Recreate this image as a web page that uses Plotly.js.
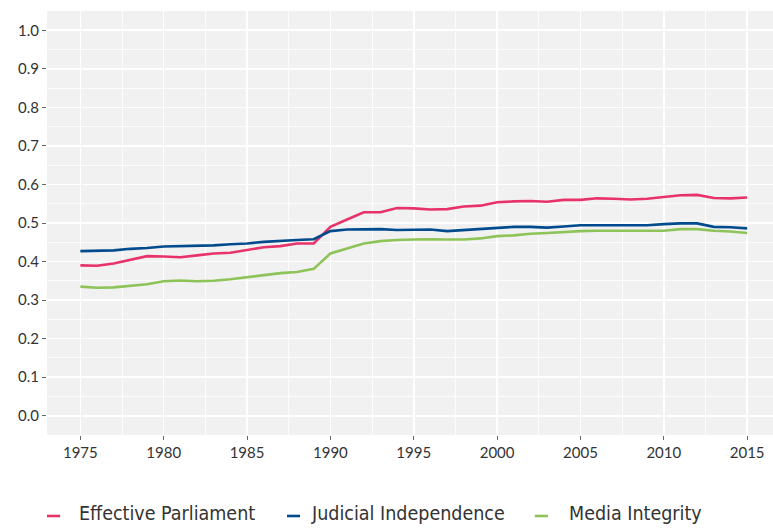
<!DOCTYPE html>
<html>
<head>
<meta charset="utf-8">
<script src="https://cdn.plot.ly/plotly-3.0.1.min.js"></script>
<style>html,body{margin:0;padding:0;background:#fff;}#chart{width:773px;height:528px;}</style>
</head>
<body>
<div id="chart"></div>
<script>
const years = [1975,1976,1977,1978,1979,1980,1981,1982,1983,1984,1985,1986,1987,1988,1989,1990,1991,1992,1993,1994,1995,1996,1997,1998,1999,2000,2001,2002,2003,2004,2005,2006,2007,2008,2009,2010,2011,2012,2013,2014,2015];
const effectiveParliament = [0.390,0.389,0.395,0.404,0.414,0.413,0.411,0.416,0.421,0.423,0.430,0.437,0.440,0.447,0.447,0.490,0.509,0.528,0.528,0.539,0.538,0.535,0.536,0.543,0.545,0.554,0.556,0.557,0.555,0.560,0.560,0.564,0.563,0.561,0.563,0.567,0.572,0.573,0.565,0.564,0.566];
const judicialIndependence = [0.427,0.428,0.429,0.433,0.435,0.439,0.440,0.441,0.442,0.445,0.447,0.451,0.454,0.456,0.458,0.479,0.483,0.484,0.484,0.482,0.482,0.483,0.479,0.482,0.484,0.488,0.490,0.490,0.488,0.491,0.494,0.494,0.494,0.494,0.494,0.497,0.499,0.499,0.490,0.489,0.486];
const mediaIntegrity = [0.335,0.332,0.333,0.337,0.341,0.349,0.351,0.349,0.350,0.354,0.359,0.365,0.370,0.373,0.381,0.421,0.434,0.447,0.453,0.456,0.457,0.458,0.457,0.457,0.460,0.466,0.468,0.472,0.474,0.477,0.479,0.480,0.480,0.479,0.480,0.480,0.484,0.484,0.480,0.478,0.474];
const seriesNames = ["Effective Parliament","Judicial Independence","Media Integrity"];
const xTicks = [1975,1980,1985,1990,1995,2000,2005,2010,2015];
const yTicks = [0,0.1,0.2,0.3,0.4,0.5,0.6,0.7,0.8,0.9,1.0];
const yTickText = ["0.0","0.1","0.2","0.3","0.4","0.5","0.6","0.7","0.8","0.9","1.0"];

const colors = ["#E8336A","#004B8D","#8DC358"];
const series = [effectiveParliament, judicialIndependence, mediaIntegrity];
const traces = series.map((s,i)=>({
  x: years, y: s, name: seriesNames[i], type:"scatter", mode:"lines",
  line:{color:colors[i], width:2.6}, showlegend:false
}));

// custom legend (short key lines + labels) below the plot
const legendY = -0.191;
const keyX = [[0.0, 0.018],[0.3306, 0.3485],[0.672, 0.690]];
const textX = [0.0413, 0.3609, 0.716];
const shapes = seriesNames.map((n,i)=>({
  type:"line", xref:"paper", yref:"paper", x0:keyX[i][0], x1:keyX[i][1], y0:legendY, y1:legendY,
  line:{color:colors[i], width:2.6}
}));
const annotations = seriesNames.map((n,i)=>({
  text:n, xref:"paper", yref:"paper", x:textX[i], y:legendY+0.005, xanchor:"left", yanchor:"middle",
  showarrow:false, font:{family:"'DejaVu Sans Condensed', 'Liberation Sans Narrow', sans-serif", size:19.5, color:"#333333"}
}));

const layout = {
  width:773, height:528,
  margin:{l:47, r:0, t:11, b:93},
  paper_bgcolor:"#ffffff", plot_bgcolor:"#F1F1F1",
  font:{family:"Lato, 'Open Sans', sans-serif", color:"#333333", size:15},
  showlegend:false,
  shapes: shapes, annotations: annotations,
  xaxis:{range:[1973,2016.55], tickvals:xTicks, ticktext:xTicks.map(String),
    showgrid:true, gridcolor:"#ffffff", gridwidth:1.6,
    minor:{dtick:2.5, tick0:1972.5, showgrid:true, gridcolor:"#ffffff", gridwidth:0.8},
    zeroline:false, ticks:"outside", ticklen:4, tickcolor:"#666666", tickwidth:1,
    showline:false, tickfont:{size:15, color:"#333333"}, automargin:false},
  yaxis:{range:[-0.05,1.05], tickvals:yTicks, ticktext:yTickText,
    showgrid:true, gridcolor:"#ffffff", gridwidth:1.6,
    minor:{dtick:0.05, tick0:0.05, showgrid:true, gridcolor:"#ffffff", gridwidth:0.8},
    zeroline:false, ticks:"outside", ticklen:4, tickcolor:"#666666", tickwidth:1,
    showline:false, tickfont:{size:15, color:"#333333"}, automargin:false}
};

Plotly.newPlot("chart", traces, layout, {displayModeBar:false, staticPlot:true});
</script>
</body>
</html>
